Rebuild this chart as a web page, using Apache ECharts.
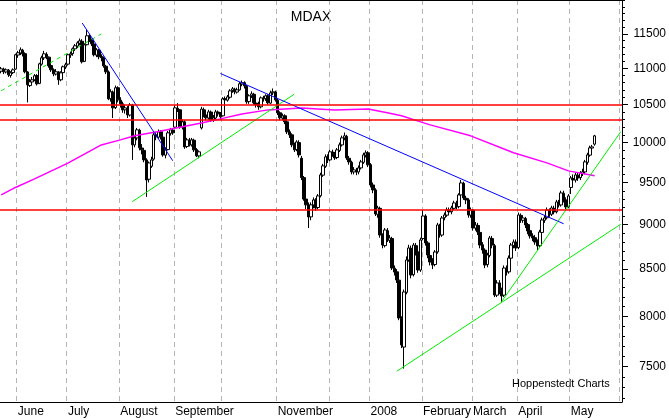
<!DOCTYPE html>
<html>
<head>
<meta charset="utf-8">
<script src="https://cdn.jsdelivr.net/npm/echarts@6/dist/echarts.min.js"></script>
<style>
html, body { margin: 0; padding: 0; background: #fff; }
#chart { width: 669px; height: 420px; }
</style>
</head>
<body>
<div id="chart"></div>
<script>
// trading calendar (Xetra), 23 May 2007 .. 2 June 2008
var firstDay = [2007, 4, 23];
var tradingDayCount = 261;
var holidays = ['2007-12-24', '2007-12-25', '2007-12-26', '2007-12-31', '2008-01-01', '2008-03-21', '2008-03-24', '2008-05-01'];
var monthNames = ['January', 'February', 'March', 'April', 'May', 'June', 'July', 'August', 'September', 'October', 'November', 'December'];
// month labels the original leaves out (no room next to the previous one)
var hiddenMonths = ['2007-10', '2007-12', '2008-06'];

// daily MDAX candles
var opens = [
  10960,10990,10950,10975,10900,10940,10990,11190,11220,11260,
  11210,10950,10760,10810,10840,10900,10790,11060,11150,11200,
  11160,11040,10980,10920,10950,10840,10940,11020,11060,11190,
  11210,11280,11320,11360,11390,11100,11340,11470,11410,11350,
  11190,11260,11170,11150,11030,10950,10580,10670,10460,10730,
  10560,10510,10430,10450,10360,10490,9970,10060,10160,9930,
  9900,9780,9540,9700,9790,10100,10070,10140,10070,9840,
  9910,10120,10160,10200,10450,10430,10200,10270,9950,10030,
  9970,10030,9910,9830,10190,10430,10360,10320,10400,10300,
  10320,10400,10380,10350,10580,10560,10600,10690,10710,10670,
  10700,10780,10800,10750,10540,10620,10640,10520,10500,10470,
  10590,10580,10620,10520,10660,10670,10560,10390,10320,10350,
  10270,10140,10100,9970,9910,10000,9800,9560,9300,9230,
  9090,9230,9290,9200,9340,9590,9700,9820,9780,9880,
  9850,9810,9900,9970,10060,10080,9800,9750,9630,9650,
  9630,9680,9750,9840,9870,9720,9470,9410,9120,9190,
  8880,8760,8930,8820,8840,8510,8470,8380,7980,7690,
  8250,8600,8730,8440,8760,8690,8490,8840,9100,8790,
  8650,8580,8550,8690,8990,8880,9080,9110,9170,9150,
  9190,9250,9210,9350,9490,9310,9290,9110,9170,8960,
  8990,8910,8770,8710,8550,8650,8840,8760,8220,8350,
  8270,8220,8510,8470,8620,8760,8800,8740,9110,9050,
  9070,9000,8930,8870,8850,8800,8760,8910,9050,9080,
  9170,9120,9190,9150,9260,9230,9370,9290,9210,9440,
  9550,9530,9590,9560,9610,9630,9750,9840,9930,9980
];
var closes = [
  10994,10952,10980,10910,10938,10980,11194,11223,11266,11208,
  10952,10770,10812,10840,10896,10784,11065,11151,11208,11165,
  11037,10980,10924,10952,10840,10938,11023,11051,11194,11208,
  11280,11324,11367,11396,11094,11338,11470,11411,11353,11194,
  11266,11165,11151,11037,10952,10578,10674,10456,10729,10564,
  10510,10429,10456,10362,10496,9971,10061,10165,9933,9907,
  9780,9531,9742,9780,10100,10074,10139,10074,9843,9907,
  10126,10165,10126,10456,10429,10204,10270,9945,10035,9971,
  10035,9907,9831,9882,10440,10362,10323,10402,10296,10323,
  10402,10376,10336,10578,10564,10605,10687,10715,10674,10701,
  10784,10798,10756,10537,10619,10646,10524,10496,10470,10591,
  10578,10619,10524,10660,10674,10564,10389,10323,10349,10270,
  10139,10100,9971,9907,10009,9843,9560,9300,9231,9089,
  9231,9290,9195,9338,9593,9705,9818,9780,9882,9856,
  9805,9907,9971,10061,10087,9805,9755,9630,9655,9630,
  9680,9755,9843,9869,9718,9470,9410,9124,9195,8881,
  8767,8938,8824,8847,8512,8468,8382,7983,7711,8254,
  8600,8734,8436,8767,8689,8490,8824,9100,8790,8656,
  8578,8545,8689,8996,8881,9077,9112,9171,9148,9195,
  9254,9207,9350,9495,9314,9290,9112,9171,8961,8996,
  8915,8767,8711,8545,8656,8847,8767,8222,8350,8275,
  8211,8512,8468,8622,8767,8801,8734,9112,9054,9077,
  8996,8927,8870,8847,8801,8756,8915,9054,9077,9171,
  9124,9195,9148,9266,9231,9374,9290,9207,9338,9556,
  9531,9593,9556,9618,9630,9755,9843,9933,9945,10087
];
var lows = [
  10930,10920,10930,10880,10870,10920,10980,11150,11190,11170,
  10930,10530,10740,10780,10820,10760,10780,11040,11120,11130,
  11010,10950,10890,10900,10770,10820,10920,10990,11040,11150,
  11180,11250,11290,11330,11070,11090,11330,11380,11320,11170,
  11160,11130,11100,11010,10920,10560,10540,10320,10440,10530,
  10460,10390,10380,10320,10340,9780,9940,10030,9900,9850,
  9750,9326,9500,9680,9770,10030,10050,10040,9820,9800,
  9900,10090,10100,10190,10400,10180,10170,9920,9930,9950,
  9950,9880,9815,9800,10170,10330,10290,10300,10270,10270,
  10300,10340,10300,10340,10530,10540,10580,10660,10640,10650,
  10690,10750,10720,10510,10510,10590,10500,10460,10430,10450,
  10540,10550,10500,10510,10630,10540,10360,10290,10290,10240,
  10110,10060,9940,9880,9890,9810,9530,9280,9180,8960,
  9050,9190,9160,9180,9320,9570,9680,9740,9760,9820,
  9780,9790,9880,9950,10030,9780,9720,9600,9600,9590,
  9600,9660,9730,9810,9690,9440,9370,9100,9080,8850,
  8730,8740,8800,8790,8490,8430,8350,7960,7680,7480,
  8230,8580,8400,8420,8650,8460,8470,8820,8760,8620,
  8540,8500,8530,8670,8850,8860,9050,9090,9110,9120,
  9170,9180,9190,9330,9290,9240,9080,9080,8930,8930,
  8880,8730,8670,8510,8520,8630,8730,8200,8200,8230,
  8150,8200,8430,8450,8600,8730,8700,8720,9020,9020,
  8960,8890,8840,8810,8770,8710,8740,8890,9020,9060,
  9090,9100,9120,9130,9200,9210,9260,9180,9190,9360,
  9490,9500,9520,9530,9580,9600,9720,9820,9900,9960
];
var highs = [
  11020,11010,11000,10990,10960,11000,11210,11250,11300,11280,
  11230,10960,10850,10880,10920,10920,11080,11180,11250,11230,
  11170,11060,11000,10990,10960,10960,11040,11080,11210,11240,
  11300,11350,11390,11430,11420,11360,11560,11500,11430,11370,
  11290,11280,11200,11170,11050,10970,10710,10690,10760,10750,
  10600,10540,10500,10480,10520,10510,10100,10190,10180,9980,
  9920,9800,9760,9820,10130,10140,10170,10160,10090,9940,
  10150,10190,10180,10490,10520,10440,10300,10290,10060,10060,
  10060,10050,9930,9900,10470,10460,10390,10430,10420,10360,
  10430,10420,10400,10600,10610,10630,10710,10740,10730,10730,
  10810,10830,10820,10770,10640,10680,10660,10550,10540,10610,
  10620,10640,10640,10690,10720,10690,10580,10410,10380,10370,
  10290,10170,10120,10000,10030,10030,9830,9580,9340,9260,
  9260,9320,9310,9360,9620,9730,9850,9850,9910,9910,
  9880,9930,10000,10090,10130,10100,9830,9770,9690,9680,
  9710,9780,9870,9900,9890,9740,9500,9430,9220,9210,
  8900,8960,8960,8880,8860,8540,8500,8400,8000,8280,
  8640,8770,8760,8790,8790,8710,8850,9170,9120,8810,
  8690,8620,8710,9020,9010,9100,9140,9200,9200,9220,
  9280,9280,9370,9530,9510,9340,9310,9200,9180,9030,
  9020,8930,8800,8730,8680,8870,8870,8780,8380,8380,
  8300,8540,8540,8650,8790,8830,8830,9140,9130,9110,
  9090,9020,8950,8900,8880,8830,8940,9080,9110,9200,
  9190,9220,9220,9290,9290,9400,9400,9320,9360,9580,
  9600,9620,9630,9640,9670,9780,9870,9960,9970,10100
];

// 200-day average (magenta), sampled at trading-day indices
var maIdx = [0, 6, 14, 28, 42, 50, 56, 66, 84, 92, 101, 112, 126, 140, 154, 162, 168, 176, 180, 197, 215, 229, 238, 249];
var maVal = [9350, 9440, 9545, 9740, 9970, 10035, 10087, 10143, 10255, 10309, 10375, 10429, 10455, 10429, 10442, 10390, 10350, 10270, 10230, 10087, 9870, 9743, 9643, 9582];

// trend lines: [dayIndex, level] end points
var greenDashed = [[0, 10689], [42, 11497]];
var blueLine1 = [[34, 11660], [72, 9769]];
var greenLine1 = [[55, 9269], [123, 10642]];
var blueLine2 = [[92, 10928], [236, 9010]];
var greenLine2 = [[210, 8153], [260, 10141]];
var greenLine3 = [[166, 7455], [260, 9005]];

// horizontal resistance / support levels
var redLevels = [10500, 10300, 9170];

var yTicks = [7500, 8000, 8500, 9000, 9500, 10000, 10500, 11000, 11500];
var yMin = 7166, yMax = 12010;

var FONT = '"Liberation Sans", Arial, sans-serif';

var days = [];
var d = new Date(Date.UTC(firstDay[0], firstDay[1], firstDay[2]));
while (days.length < tradingDayCount) {
    var wd = d.getUTCDay();
    var iso = d.toISOString().slice(0, 10);
    if (wd !== 0 && wd !== 6 && holidays.indexOf(iso) < 0) days.push(iso);
    d.setUTCDate(d.getUTCDate() + 1);
}
function weekday(s) { return new Date(s + 'T00:00:00Z').getUTCDay(); }
var monthStart = days.map(function (s, i) { return i > 0 && s.slice(5, 7) !== days[i - 1].slice(5, 7); });
var weekStart = days.map(function (s, i) { return i > 0 && weekday(s) < weekday(days[i - 1]); });

var minorTicks = [];
for (var v = 7200; v <= 12000; v += 100) minorTicks.push(v);

var candles = opens.map(function (o, i) { return [o, closes[i], lows[i], highs[i]]; });
var maLine = maIdx.map(function (x, i) { return [x, maVal[i]]; });

function trend(data, color, dashed) {
    return {
        type: 'line', data: data, showSymbol: false, silent: true,
        xAxisIndex: 0, yAxisIndex: 0,
        lineStyle: { color: color, width: 1, type: dashed ? [4, 4] : 'solid' },
        z: 3
    };
}

var myChart = echarts.init(document.getElementById('chart'));
myChart.setOption({
    animation: false,
    backgroundColor: '#fff',
    textStyle: { fontFamily: FONT },
    grid: { left: 0, right: 47, top: 0, bottom: 18, containLabel: false },
    graphic: [
        { type: 'text', x: 311, y: 17, style: { text: 'MDAX', font: '14px ' + FONT, fill: '#000', textAlign: 'center', textVerticalAlign: 'middle' } },
        { type: 'text', x: 512, y: 384, style: { text: 'Hoppenstedt Charts', font: '11px ' + FONT, fill: '#000', textAlign: 'left', textVerticalAlign: 'middle' } }
    ],
    xAxis: [
        {
            type: 'category', data: days, boundaryGap: true,
            axisLine: { lineStyle: { color: '#000', width: 1 } },
            axisTick: { interval: function (i) { return monthStart[i]; }, length: 18, lineStyle: { color: '#000' } },
            axisLabel: {
                interval: function (i) { return monthStart[i] && hiddenMonths.indexOf(days[i].slice(0, 7)) < 0; },
                formatter: function (val) {
                    var m = +val.slice(5, 7);
                    return m === 1 ? val.slice(0, 4) : monthNames[m - 1];
                },
                align: 'left', margin: 4, color: '#000', fontSize: 12, fontFamily: FONT
            },
            splitLine: { show: true, interval: function (i) { return monthStart[i]; }, lineStyle: { color: '#b4b4b4', width: 1, type: [5, 4] } }
        },
        {
            type: 'category', data: days, boundaryGap: true,
            axisLine: { lineStyle: { color: '#000', width: 1 } },
            axisTick: { interval: function (i) { return weekStart[i]; }, length: 4, lineStyle: { color: '#000' } },
            axisLabel: { show: false },
            splitLine: { show: false }
        }
    ],
    yAxis: [
        {
            type: 'log', logBase: 10, position: 'right', min: yMin, max: yMax,
            axisLine: { show: true, lineStyle: { color: '#000' } },
            axisTick: { show: true, length: 6, customValues: yTicks, lineStyle: { color: '#000' } },
            axisLabel: {
                customValues: yTicks, align: 'right', margin: 44,
                color: '#000', fontSize: 12, fontFamily: FONT,
                formatter: function (val) { return String(Math.round(val)); }
            },
            splitLine: { show: false }
        },
        {
            type: 'log', logBase: 10, position: 'right', min: yMin, max: yMax,
            axisLine: { show: false },
            axisTick: { show: true, length: 3, customValues: minorTicks, lineStyle: { color: '#000' } },
            axisLabel: { show: false },
            splitLine: { show: false }
        }
    ],
    series: [
        {
            type: 'candlestick', data: candles, xAxisIndex: 0, yAxisIndex: 0,
            barWidth: 3,
            itemStyle: { color: '#fff', color0: '#000', borderColor: '#000', borderColor0: '#000', borderWidth: 1 },
            markLine: {
                silent: true, symbol: ['none', 'none'], label: { show: false },
                lineStyle: { color: '#ff0000', type: 'solid', width: 1.5 },
                data: redLevels.map(function (lv) { return { yAxis: lv }; })
            },
            z: 2
        },
        {
            type: 'line', data: maLine, showSymbol: false, silent: true,
            xAxisIndex: 0, yAxisIndex: 0,
            lineStyle: { color: '#ff00ff', width: 1.5 }, z: 3
        },
        trend(greenDashed, '#00ee00', true),
        trend(blueLine1, '#0000ff'),
        trend(greenLine1, '#00ee00'),
        trend(blueLine2, '#0000ff'),
        trend(greenLine2, '#00ee00'),
        trend(greenLine3, '#00ee00')
    ]
});
</script>
</body>
</html>
